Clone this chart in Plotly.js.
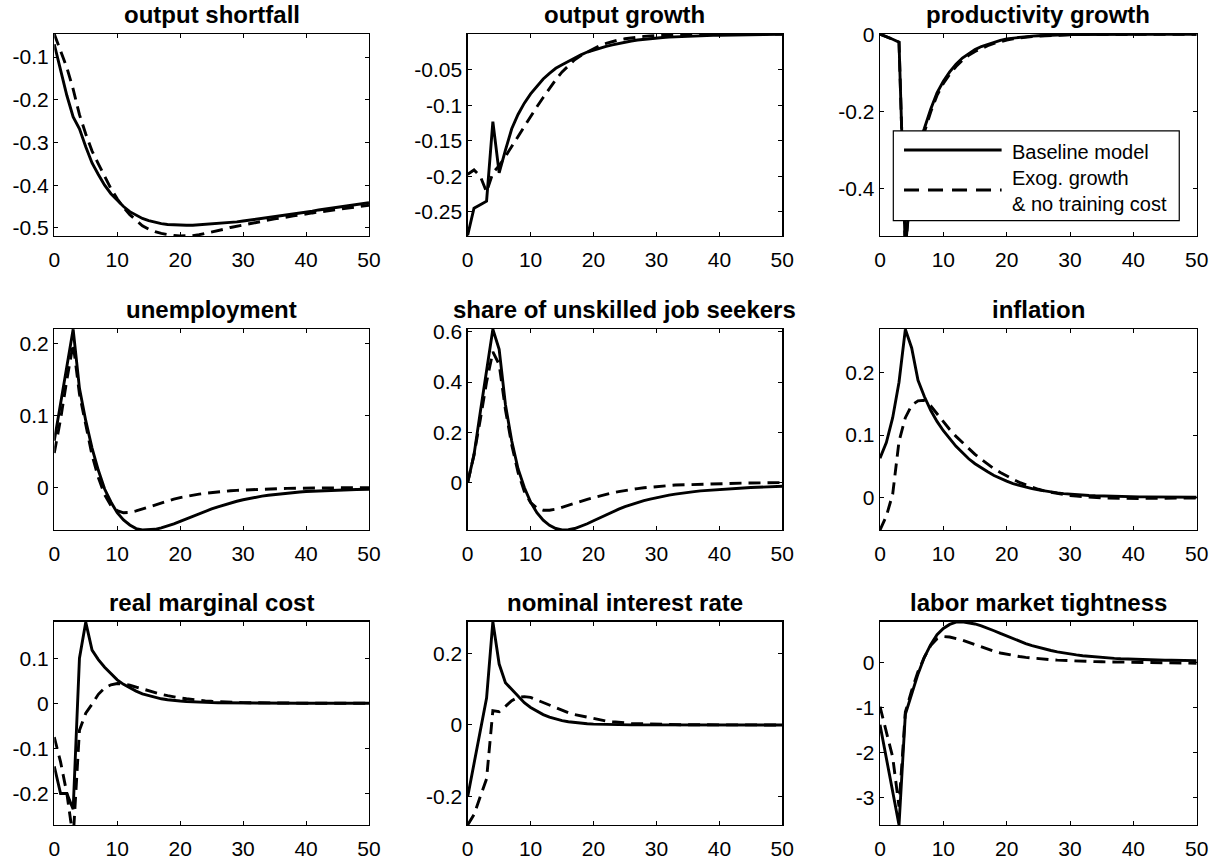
<!DOCTYPE html>
<html><head><meta charset="utf-8">
<script src="https://cdn.plot.ly/plotly-3.0.1.min.js"></script>
<style>html,body{margin:0;padding:0;background:#fff}#chart{width:1217px;height:861px}</style>
</head><body><div id="chart"></div>
<script>
const periods = [0,1,2,3,4,5,6,7,8,9,10,11,12,13,14,15,16,17,18,19,20,21,22,23,24,25,26,27,28,29,30,31,32,33,34,35,36,37,38,39,40,41,42,43,44,45,46,47,48,49,50];

const panelTitles = ['output shortfall','output growth','productivity growth','unemployment','share of unskilled job seekers','inflation','real marginal cost','nominal interest rate','labor market tightness'];

const legendLabels = ['Baseline model', 'Exog. growth', '& no training cost'];

const xTickVals = [0,10,20,30,40,50];
const xTickText = ['0','10','20','30','40','50'];

// output shortfall
const outputShortfallBase = [-0.070,-0.130,-0.190,-0.240,-0.268,-0.310,-0.348,-0.375,-0.400,-0.420,-0.436,-0.450,-0.462,-0.471,-0.478,-0.483,-0.487,-0.490,-0.492,-0.493,-0.494,-0.494,-0.494,-0.493,-0.492,-0.491,-0.490,-0.489,-0.487,-0.486,-0.484,-0.482,-0.480,-0.478,-0.476,-0.474,-0.472,-0.470,-0.467,-0.465,-0.463,-0.461,-0.458,-0.456,-0.454,-0.452,-0.450,-0.448,-0.446,-0.443,-0.441];
const outputShortfallAlt = [-0.046,-0.085,-0.125,-0.175,-0.235,-0.280,-0.320,-0.350,-0.380,-0.408,-0.432,-0.452,-0.469,-0.483,-0.495,-0.503,-0.509,-0.513,-0.516,-0.518,-0.519,-0.519,-0.518,-0.516,-0.513,-0.510,-0.506,-0.503,-0.499,-0.496,-0.493,-0.490,-0.487,-0.484,-0.482,-0.479,-0.477,-0.474,-0.472,-0.470,-0.467,-0.465,-0.463,-0.461,-0.459,-0.457,-0.455,-0.453,-0.451,-0.449,-0.447];
const yTicks1 = [-0.5,-0.4,-0.3,-0.2,-0.1];
const yText1 = ['-0.5','-0.4','-0.3','-0.2','-0.1'];

// output growth
const outputGrowthBase = [-0.283,-0.245,-0.240,-0.235,-0.123,-0.195,-0.163,-0.133,-0.113,-0.097,-0.084,-0.073,-0.063,-0.055,-0.048,-0.043,-0.038,-0.033,-0.029,-0.025,-0.022,-0.019,-0.017,-0.015,-0.013,-0.011,-0.0095,-0.0082,-0.0071,-0.0062,-0.0054,-0.0047,-0.0041,-0.0036,-0.0031,-0.0027,-0.0024,-0.0021,-0.0018,-0.0016,-0.0014,-0.0012,-0.0010,-0.0009,-0.0008,-0.0007,-0.0006,-0.0005,-0.0004,-0.0003,-0.0002];
const outputGrowthAlt = [-0.197,-0.191,-0.200,-0.222,-0.195,-0.185,-0.172,-0.158,-0.143,-0.129,-0.116,-0.102,-0.089,-0.076,-0.064,-0.053,-0.044,-0.036,-0.030,-0.025,-0.020,-0.016,-0.013,-0.010,-0.008,-0.0064,-0.0051,-0.0040,-0.0031,-0.0024,-0.0018,-0.0014,-0.0010,-0.0008,-0.0006,-0.0004,-0.0003,-0.0002,-0.0001,0.0000,0.0001,0.0001,0.0001,0.0001,0.0001,0.0001,0.0001,0.0001,0.0001,0.0001,0.0001];
const yTicks2 = [-0.25,-0.2,-0.15,-0.1,-0.05];
const yText2 = ['-0.25','-0.2','-0.15','-0.1','-0.05'];

// productivity growth
const productivityGrowthBase = [0.000,-0.006,-0.013,-0.021,-0.560,-0.360,-0.290,-0.245,-0.195,-0.152,-0.122,-0.098,-0.078,-0.062,-0.050,-0.040,-0.032,-0.026,-0.020,-0.016,-0.012,-0.010,-0.008,-0.006,-0.005,-0.004,-0.003,-0.0025,-0.002,-0.0015,-0.001,-0.0008,-0.0006,-0.0005,-0.0004,-0.0003,-0.0002,-0.0002,-0.0002,-0.0001,-0.0001,-0.0001,-0.0001,-0.0001,0.0000,0.0000,0.0000,0.0000,0.0000,0.0000,0.0000];
const productivityGrowthAlt = [0.000,-0.006,-0.013,-0.021,-0.560,-0.370,-0.300,-0.255,-0.202,-0.159,-0.128,-0.104,-0.084,-0.068,-0.055,-0.045,-0.037,-0.030,-0.024,-0.019,-0.015,-0.012,-0.0095,-0.0075,-0.006,-0.0048,-0.0038,-0.003,-0.0024,-0.0019,-0.0015,-0.0012,-0.001,-0.0008,-0.0006,-0.0005,-0.0004,-0.0003,-0.0002,-0.0002,-0.0001,-0.0001,-0.0001,0.0000,0.0000,0.0000,0.0000,0.0000,0.0000,0.0000,0.0000];
const yTicks3 = [-0.4,-0.2,0];
const yText3 = ['-0.4','-0.2','0'];

// unemployment
const unemploymentBase = [0.065,0.118,0.170,0.220,0.138,0.093,0.055,0.024,-0.002,-0.020,-0.035,-0.045,-0.052,-0.057,-0.059,-0.0590,-0.0580,-0.0561,-0.0535,-0.0504,-0.0470,-0.0434,-0.0398,-0.0363,-0.0329,-0.0297,-0.0267,-0.0239,-0.0213,-0.0190,-0.0169,-0.0150,-0.0134,-0.0119,-0.0106,-0.0095,-0.0085,-0.0076,-0.0068,-0.0061,-0.0055,-0.0050,-0.0045,-0.0041,-0.0037,-0.0034,-0.0031,-0.0029,-0.0027,-0.0025,-0.0023];
const unemploymentAlt = [0.048,0.095,0.150,0.200,0.130,0.085,0.045,0.014,-0.010,-0.025,-0.032,-0.035,-0.0345,-0.0325,-0.0297,-0.0267,-0.0237,-0.0209,-0.0183,-0.0160,-0.0139,-0.0121,-0.0105,-0.0091,-0.0079,-0.0068,-0.0059,-0.0051,-0.0044,-0.0038,-0.0033,-0.0028,-0.0024,-0.0021,-0.0018,-0.0015,-0.0013,-0.0011,-0.0009,-0.0008,-0.0007,-0.0006,-0.0005,-0.0004,-0.0003,-0.0002,-0.0002,-0.0001,-0.0001,0.0000,0.0000];
const yTicks4 = [0,0.1,0.2];
const yText4 = ['0','0.1','0.2'];

// share of unskilled job seekers
const unskilledShareBase = [0.000,0.110,0.280,0.450,0.610,0.530,0.310,0.165,0.055,-0.020,-0.078,-0.120,-0.150,-0.170,-0.183,-0.189,-0.188,-0.183,-0.175,-0.164,-0.152,-0.140,-0.128,-0.117,-0.106,-0.096,-0.087,-0.079,-0.072,-0.066,-0.060,-0.055,-0.050,-0.046,-0.042,-0.039,-0.036,-0.033,-0.031,-0.029,-0.027,-0.025,-0.023,-0.022,-0.021,-0.020,-0.019,-0.018,-0.017,-0.016,-0.015];
const unskilledShareAlt = [0.000,0.110,0.250,0.400,0.520,0.470,0.290,0.150,0.040,-0.035,-0.080,-0.102,-0.110,-0.110,-0.106,-0.099,-0.091,-0.083,-0.075,-0.067,-0.060,-0.053,-0.047,-0.041,-0.036,-0.031,-0.027,-0.024,-0.021,-0.018,-0.016,-0.014,-0.012,-0.010,-0.009,-0.008,-0.007,-0.006,-0.005,-0.0045,-0.004,-0.0035,-0.003,-0.0025,-0.002,-0.0017,-0.0014,-0.0011,-0.0008,-0.0005,-0.0003];
const yTicks5 = [0,0.2,0.4,0.6];
const yText5 = ['0','0.2','0.4','0.6'];

// inflation
const inflationBase = [0.063,0.088,0.128,0.185,0.270,0.240,0.188,0.162,0.140,0.122,0.107,0.094,0.082,0.072,0.062,0.054,0.047,0.041,0.035,0.030,0.026,0.022,0.019,0.016,0.014,0.012,0.010,0.0085,0.0072,0.006,0.005,0.0042,0.0035,0.003,0.0025,0.0021,0.0018,0.0015,0.0013,0.0011,0.0009,0.0008,0.0007,0.0006,0.0005,0.0004,0.0003,0.0003,0.0002,0.0002,0.0001];
const inflationAlt = [-0.0525,-0.030,0.005,0.090,0.128,0.148,0.155,0.156,0.147,0.134,0.121,0.109,0.098,0.088,0.078,0.069,0.061,0.053,0.046,0.040,0.034,0.029,0.024,0.020,0.016,0.013,0.010,0.008,0.006,0.0045,0.003,0.002,0.001,0.0003,-0.0003,-0.0008,-0.0012,-0.0015,-0.0017,-0.0018,-0.0018,-0.0018,-0.0017,-0.0016,-0.0015,-0.0014,-0.0013,-0.0012,-0.0011,-0.001,-0.0009];
const yTicks6 = [0,0.1,0.2];
const yText6 = ['0','0.1','0.2'];

// real marginal cost
const marginalCostBase = [-0.140,-0.200,-0.200,-0.235,0.100,0.180,0.118,0.097,0.080,0.065,0.052,0.042,0.034,0.027,0.021,0.017,0.013,0.010,0.008,0.006,0.005,0.004,0.003,0.0025,0.002,0.0015,0.0012,0.001,0.0008,0.0006,0.0005,0.0004,0.0004,0.0003,0.0003,0.0002,0.0002,0.0002,0.0001,0.0001,0.0001,0.0001,0.0001,0.0001,0.0000,0.0000,0.0000,0.0000,0.0000,0.0000,0.0000];
const marginalCostAlt = [-0.075,-0.130,-0.200,-0.300,-0.060,-0.022,-0.002,0.020,0.034,0.041,0.044,0.043,0.040,0.036,0.031,0.027,0.023,0.020,0.017,0.014,0.012,0.010,0.008,0.0066,0.0055,0.0045,0.0037,0.003,0.0024,0.002,0.0016,0.0013,0.001,0.0008,0.0007,0.0006,0.0005,0.0004,0.0003,0.0003,0.0002,0.0002,0.0002,0.0001,0.0001,0.0001,0.0001,0.0001,0.0000,0.0000,0.0000];
const yTicks7 = [-0.2,-0.1,0,0.1];
const yText7 = ['-0.2','-0.1','0','0.1'];

// nominal interest rate
const interestRateBase = [-0.200,-0.110,-0.020,0.075,0.288,0.170,0.118,0.100,0.079,0.062,0.049,0.038,0.029,0.022,0.016,0.012,0.009,0.0065,0.0048,0.0035,0.0025,0.0018,0.0013,0.001,0.0007,0.0005,0.0004,0.0003,0.0002,0.0002,0.0001,0.0001,0.0001,0.0000,0.0000,0.0000,0.0000,0.0000,0.0000,0.0000,0.0000,0.0000,0.0000,0.0000,0.0000,0.0000,0.0000,0.0000,0.0000,0.0000,0.0000];
const interestRateAlt = [-0.279,-0.250,-0.200,-0.150,0.040,0.037,0.052,0.068,0.077,0.079,0.077,0.070,0.062,0.055,0.047,0.040,0.034,0.029,0.025,0.021,0.017,0.014,0.011,0.009,0.007,0.0057,0.0046,0.0037,0.0030,0.0024,0.0019,0.0015,0.0012,0.001,0.0008,0.0006,0.0005,0.0004,0.0003,0.0002,0.0002,0.0001,0.0001,0.0001,0.0001,0.0000,0.0000,0.0000,0.0000,0.0000,0.0000];
const yTicks8 = [-0.2,0,0.2];
const yText8 = ['-0.2','0','0.2'];

// labor market tightness
const tightnessBase = [-1.38,-2.10,-2.85,-3.61,-1.15,-0.70,-0.25,0.12,0.40,0.62,0.76,0.85,0.90,0.91,0.89,0.86,0.82,0.77,0.71,0.65,0.59,0.53,0.475,0.425,0.38,0.34,0.303,0.27,0.241,0.215,0.192,0.172,0.155,0.140,0.127,0.115,0.105,0.096,0.088,0.081,0.075,0.070,0.065,0.061,0.058,0.055,0.052,0.050,0.048,0.046,0.045];
const tightnessAlt = [-0.98,-1.55,-2.10,-3.20,-1.10,-0.62,-0.20,0.12,0.38,0.53,0.58,0.57,0.54,0.50,0.45,0.40,0.345,0.295,0.252,0.215,0.184,0.158,0.136,0.118,0.102,0.088,0.076,0.065,0.056,0.048,0.041,0.035,0.030,0.026,0.022,0.019,0.016,0.013,0.011,0.009,0.007,0.005,0.003,0.001,-0.001,-0.003,-0.005,-0.007,-0.009,-0.011,-0.013];
const yTicks9 = [-3,-2,-1,0];
const yText9 = ['-3','-2','-1','0'];

const baseSeries = [outputShortfallBase, outputGrowthBase, productivityGrowthBase, unemploymentBase, unskilledShareBase, inflationBase, marginalCostBase, interestRateBase, tightnessBase];
const altSeries = [outputShortfallAlt, outputGrowthAlt, productivityGrowthAlt, unemploymentAlt, unskilledShareAlt, inflationAlt, marginalCostAlt, interestRateAlt, tightnessAlt];
const yTickVals = [yTicks1, yTicks2, yTicks3, yTicks4, yTicks5, yTicks6, yTicks7, yTicks8, yTicks9];
const yTickTexts = [yText1, yText2, yText3, yText4, yText5, yText6, yText7, yText8, yText9];

// layout
const yRanges = [[-0.519,-0.046],[-0.284,0.0003],[-0.524,0.0005],[-0.059,0.2205],[-0.189,0.611],[-0.0525,0.2705],[-0.27,0.181],[-0.279,0.288],[-3.61,0.91]];
const colDomains = [[0.0446,0.3032],[0.3843,0.6428],[0.7231,0.9833]];
const rowDomains = [[0.7259,0.9605],[0.3844,0.6179],[0.0418,0.2779]];

const FONT = 'Liberation Sans, Arial, Helvetica, sans-serif';
const traces = [];
const layout = {
  width: 1217, height: 861,
  margin: {l:0, r:0, t:0, b:0},
  paper_bgcolor: '#fff', plot_bgcolor: '#fff',
  showlegend: false,
  font: {family: FONT, color: '#000'},
  annotations: [], shapes: []
};

for (let i = 0; i < 9; i++) {
  const n = i + 1;
  const xa = n === 1 ? 'x' : 'x' + n;
  const ya = n === 1 ? 'y' : 'y' + n;
  const row = Math.floor(i / 3), col = i % 3;
  traces.push({x: periods, y: baseSeries[i], xaxis: xa, yaxis: ya, type: 'scatter', mode: 'lines',
    line: {color: '#000', width: 2.9}, hoverinfo: 'skip'});
  traces.push({x: periods, y: altSeries[i], xaxis: xa, yaxis: ya, type: 'scatter', mode: 'lines',
    line: {color: '#000', width: 2.9, dash: '12px,7px'}, hoverinfo: 'skip'});
  const common = {showline: true, linecolor: '#000', linewidth: 1.3, mirror: 'ticks',
    ticks: 'inside', ticklen: 4, tickwidth: 1, tickcolor: '#000',
    showgrid: false, zeroline: false, fixedrange: true,
    tickfont: {family: FONT, size: 21, color: '#000'}};
  layout[n === 1 ? 'xaxis' : 'xaxis' + n] = Object.assign({}, common, {
    domain: colDomains[col], range: [0, 50], anchor: ya, ticklabelstandoff: 4,
    tickmode: 'array', tickvals: xTickVals, ticktext: xTickText});
  layout[n === 1 ? 'yaxis' : 'yaxis' + n] = Object.assign({}, common, {
    domain: rowDomains[row], range: yRanges[i], anchor: xa,
    tickmode: 'array', tickvals: yTickVals[i], ticktext: yTickTexts[i]});
  layout.annotations.push({text: '<b>' + panelTitles[i] + '</b>', xref: xa + ' domain', yref: ya + ' domain',
    x: 0.5, y: 1, xanchor: 'center', yanchor: 'bottom', yshift: 4, showarrow: false,
    font: {family: FONT, size: 24, color: '#000'}});
}

// legend box drawn in the productivity growth panel
layout.shapes.push({type: 'rect', xref: 'x3 domain', yref: 'y3 domain', x0: 0.042, x1: 0.945, y0: 0.0757, y1: 0.52,
  fillcolor: '#fff', line: {color: '#000', width: 1.2}, layer: 'above'});
layout.shapes.push({type: 'line', xref: 'x3 domain', yref: 'y3 domain', x0: 0.0758, x1: 0.384, y0: 0.4257, y1: 0.4257,
  line: {color: '#000', width: 2.9}, layer: 'above'});
layout.shapes.push({type: 'line', xref: 'x3 domain', yref: 'y3 domain', x0: 0.0758, x1: 0.384, y0: 0.2277, y1: 0.2277,
  line: {color: '#000', width: 2.9, dash: '15px,9px'}, layer: 'above'});
const legendY = [0.4175, 0.2856, 0.1584];
legendLabels.forEach((t, k) => layout.annotations.push({text: t, xref: 'x3 domain', yref: 'y3 domain',
  x: 0.4105, y: legendY[k], xanchor: 'left', yanchor: 'middle', showarrow: false,
  font: {family: FONT, size: 20, color: '#000'}}));

Plotly.newPlot('chart', traces, layout, {staticPlot: true, displayModeBar: false});
</script></body></html>
